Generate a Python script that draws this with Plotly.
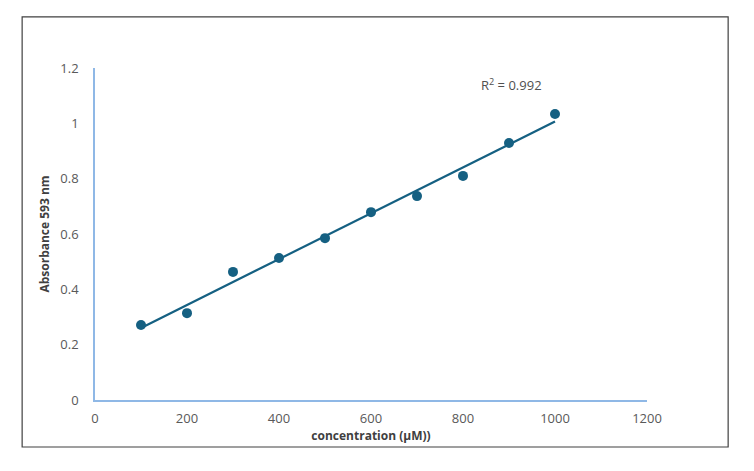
import numpy as np
import plotly.graph_objects as go

concentration = [100, 200, 300, 400, 500, 600, 700, 800, 900, 1000]
absorbance = [0.271, 0.314, 0.463, 0.513, 0.585, 0.679, 0.737, 0.810, 0.929, 1.034]
r2_label = "R<sup>2</sup> = 0.992"
x_title = "concentration (µM))"
y_title = "Absorbance 593 nm"

color = "#156082"
axis_color = "#8fb8e6"
tick_color = "#595959"
font_family = "Open Sans, Liberation Sans, sans-serif"

slope, intercept = np.polyfit(concentration, absorbance, 1)
fit_x = [concentration[0], concentration[-1]]
fit_y = [slope * v + intercept for v in fit_x]

fig = go.Figure()
fig.add_trace(go.Scatter(x=fit_x, y=fit_y, mode="lines",
                         line=dict(color=color, width=2.2), hoverinfo="skip"))
fig.add_trace(go.Scatter(x=concentration, y=absorbance, mode="markers",
                         marker=dict(color=color, size=10)))

fig.update_layout(
    width=754, height=471,
    margin=dict(l=87, r=115, t=60, b=79),
    paper_bgcolor="white", plot_bgcolor="white",
    showlegend=False,
    font=dict(family=font_family, color=tick_color, size=13),
    xaxis=dict(range=[0, 1200], dtick=200, showgrid=False, zeroline=False,
               showline=True, linecolor=axis_color, linewidth=1.5,
               ticks="", ticklabelstandoff=6,
               tickfont=dict(size=13, color=tick_color),
               title=dict(text="<b>" + x_title + "</b>", standoff=5,
                          font=dict(size=12, color="#404040"))),
    yaxis=dict(range=[0, 1.2], dtick=0.2, showgrid=False, zeroline=False,
               showline=True, linecolor=axis_color, linewidth=1.5,
               ticks="", ticklabelstandoff=12,
               tickfont=dict(size=13, color=tick_color),
               title=dict(text="<b>" + y_title + "</b>", standoff=8,
                          font=dict(size=12, color="#404040"))),
    annotations=[dict(x=905, y=1.14, xref="x", yref="y", text=r2_label,
                      showarrow=False, font=dict(size=13, color="#505050"))],
    shapes=[dict(type="rect", xref="paper", yref="paper",
                 x0=-0.132, x1=1.147, y0=-0.1416, y1=1.154,
                 line=dict(color="#404040", width=1.2))],
)

fig.write_html("out.html")
